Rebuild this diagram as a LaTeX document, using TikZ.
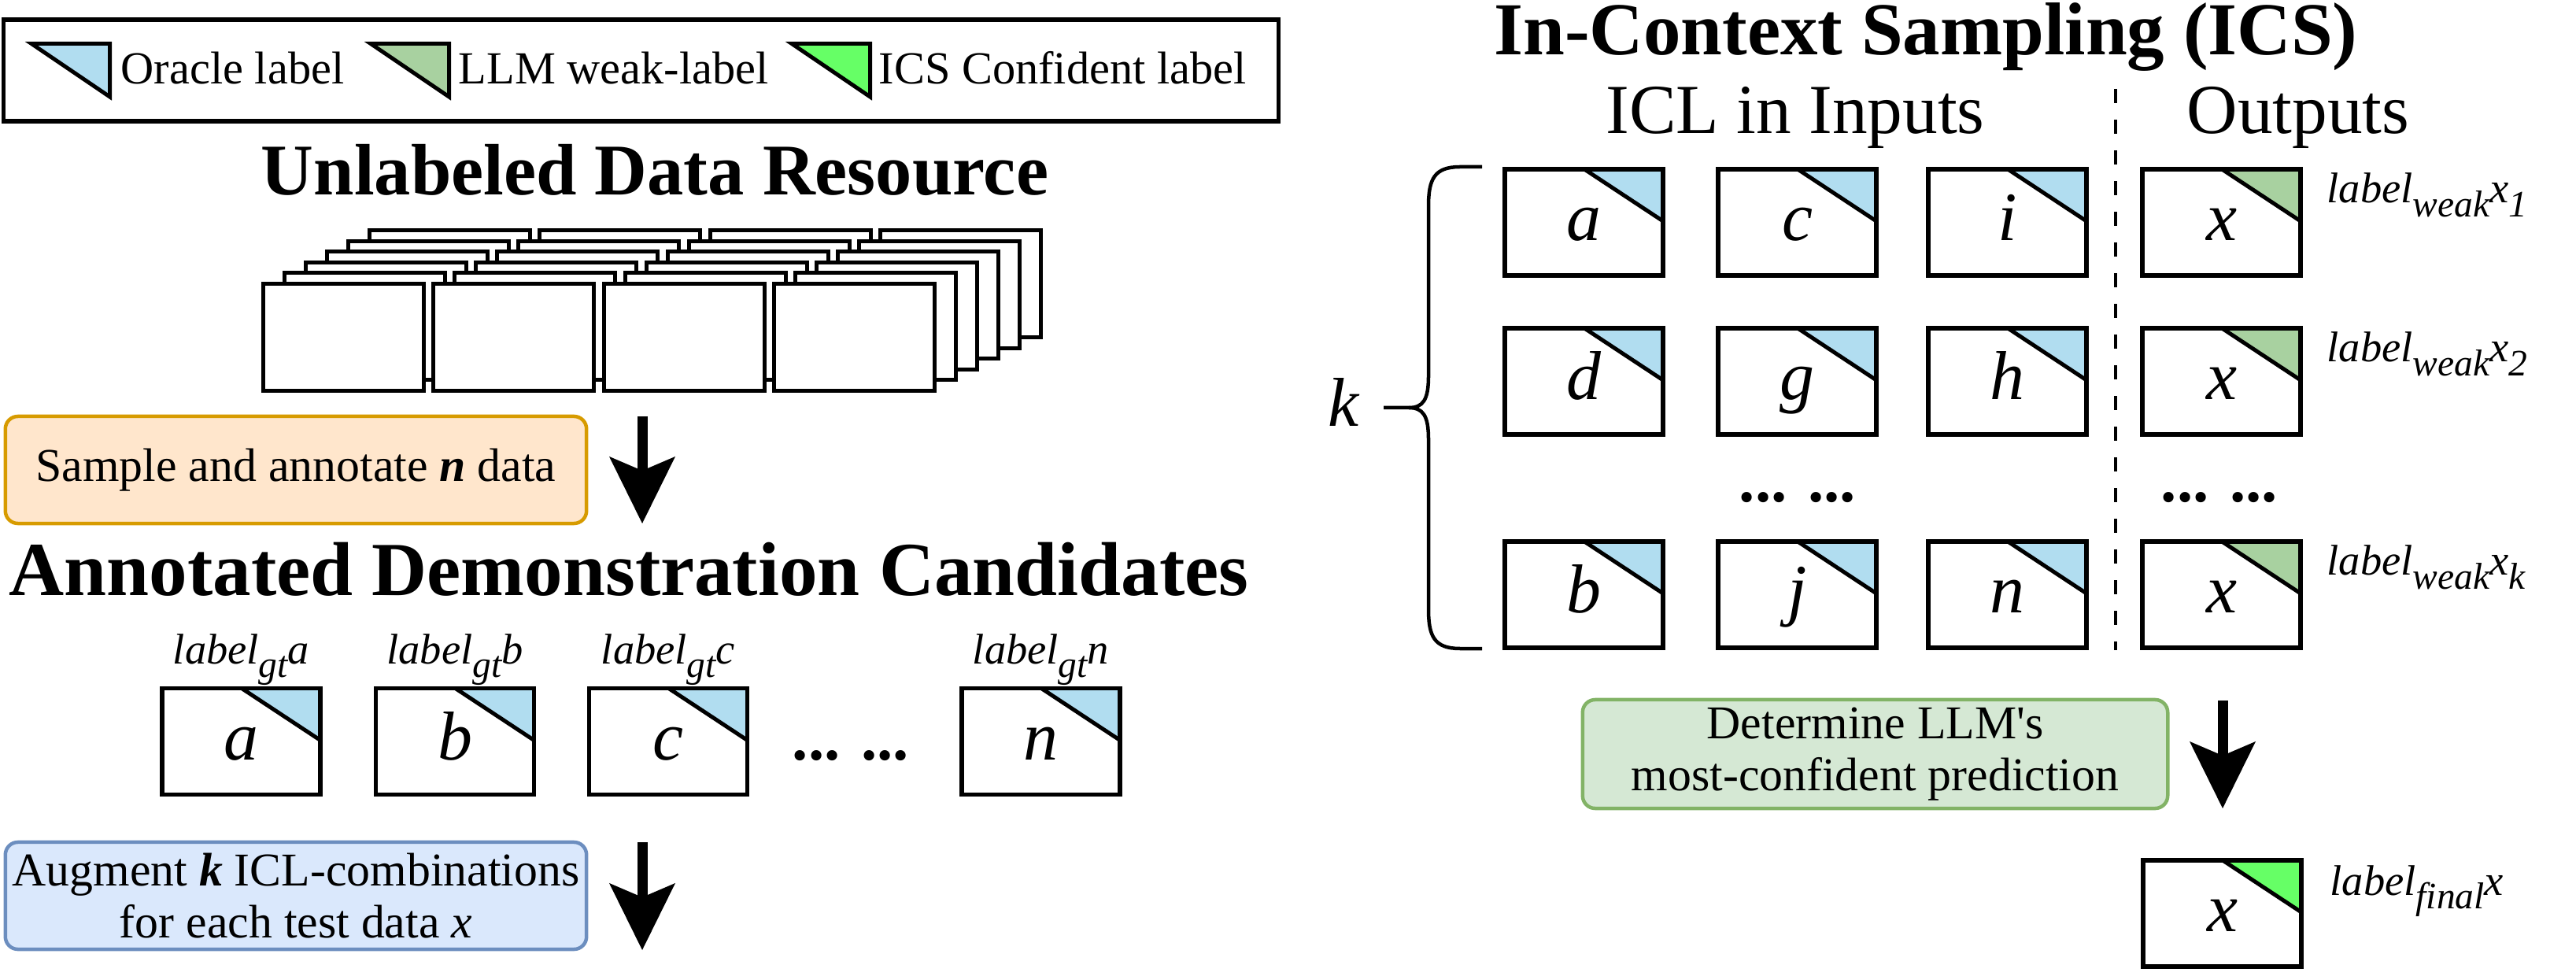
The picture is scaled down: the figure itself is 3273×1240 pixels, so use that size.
\documentclass[tikz,border=0pt]{standalone}
\usepackage{fontspec}
\setmainfont{Liberation Serif}
\usetikzlibrary{arrows.meta}
\definecolor{oracle}{HTML}{B1DDF0}
\definecolor{weakg}{HTML}{A8D1A0}
\definecolor{confg}{HTML}{66FF66}
\definecolor{orF}{HTML}{FFE6CC}
\definecolor{orD}{HTML}{D79B00}
\definecolor{blF}{HTML}{DAE8FC}
\definecolor{blD}{HTML}{6C8EBF}
\definecolor{grF}{HTML}{D5E8D4}
\definecolor{grD}{HTML}{82B366}
\tikzset{
  databox/.style={draw=black, fill=white, line width=0.055cm, minimum width=2.01cm, minimum height=1.35cm,
    inner sep=0pt, outer sep=0pt, text height=0.46cm, text depth=0pt, font=\fontsize{25}{25}\selectfont\itshape},
  stackbox/.style={draw=black, fill=white, line width=0.05cm},
  legtext/.style={inner sep=0pt, font=\fontsize{16.6}{19}\selectfont},
  titleA/.style={inner sep=0pt, font=\fontsize{26.3}{30}\selectfont\bfseries},
  titleB/.style={inner sep=0pt, font=\fontsize{27.6}{30}\selectfont\bfseries},
  titleC/.style={inner sep=0pt, font=\fontsize{27}{30}\selectfont\bfseries},
  hdr/.style={inner sep=0pt, font=\fontsize{25.4}{30}\selectfont},
  lbl/.style={inner sep=0pt, font=\fontsize{15.5}{18}\selectfont\itshape},
  dots/.style={inner sep=0pt, font=\fontsize{23}{26}\selectfont\bfseries},
  procbox/.style={line width=0.045cm, rounded corners=0.16cm, inner sep=0pt, outer sep=0pt, align=center,
    font=\fontsize{17}{19}\selectfont},
  bigarrow/.style={line width=0.13cm, -{Stealth[length=0.85cm, width=0.84cm, inset=0.18cm, line width=0pt]}},
  hyp/.style={line width=0.05cm},
}
\newcommand{\lsub}[1]{\raisebox{-0.17cm}{\fontsize{13.5}{14}\selectfont\itshape #1}}
\newcommand{\dbox}[5]{%
  \node[databox] (#1) at (#2,#3) {#4};
  \fill[#5] ([xshift=-1.0cm]#1.north east) -- (#1.north east) -- ([yshift=-0.66cm]#1.north east) -- cycle;
  \draw[hyp] ([xshift=-1.0cm]#1.north east) -- ([yshift=-0.66cm]#1.north east);
  \draw[line width=0.055cm] (#1.north west) rectangle (#1.south east);
}
\newcommand{\legtri}[2]{%
  \draw[fill=#2, line width=0.05cm, line join=miter] (#1+40,55.5) -- (#1+139.5,55.5) -- (#1+139.5,123) -- cycle;
}
\begin{document}
\begin{tikzpicture}[x=0.01cm,y=-0.01cm]
\useasboundingbox (0,0) rectangle (3273,1240);

% ---------- legend ----------
\node[draw=black, line width=0.055cm, minimum width=16.19cm, minimum height=1.29cm, inner sep=0pt, outer sep=0pt] (legend) at (814.5,89.5) {};
\legtri{0}{oracle}
\legtri{431}{weakg}
\legtri{966}{confg}
\node[legtext, anchor=base west] (lg1) at (153,107) {Oracle label};
\node[legtext, anchor=base west] (lg2) at (582,107) {LLM weak-label};
\node[legtext, anchor=base west] (lg3) at (1116,107) {ICS Confident label};

% ---------- unlabeled data ----------
\node[titleA, anchor=base] (t1) at (832,248) {Unlabeled Data Resource};
\foreach \k in {5,4,...,0}{
  \foreach \i in {0,1,2,3}{
    \draw[stackbox] ({334.5+216.3*\i+27*\k},{360.5-13.5*\k}) rectangle +(204,136);
  }
}

% ---------- sample ----------
\node[procbox, draw=orD, fill=orF, minimum width=7.38cm, minimum height=1.36cm] (sample) at (376,597)
  {Sample and annotate \textbf{\textit{n}} data};
\coordinate (a1s) at (816,529);
\coordinate (a1e) at (816,665);
\draw[bigarrow] (a1s) -- (a1e);

% ---------- annotated candidates ----------
\node[titleB, anchor=base] (t2) at (799,756) {Annotated Demonstration Candidates};
\dbox{ca}{306.5}{942}{a}{oracle}
\dbox{cb}{578}{942}{b}{oracle}
\dbox{cc}{849}{942}{c}{oracle}
\dbox{cn}{1322.5}{942}{n}{oracle}
\node[dots, anchor=base] (cdots) at (1081,965) {... ...};
\node[lbl, anchor=base] (la) at (306.5,843) {label\lsub{gt}a};
\node[lbl, anchor=base] (lb) at (578,843) {label\lsub{gt}b};
\node[lbl, anchor=base] (lc) at (849,843) {label\lsub{gt}c};
\node[lbl, anchor=base] (ln) at (1322.5,843) {label\lsub{gt}n};

% ---------- augment ----------
\node[procbox, draw=blD, fill=blF, minimum width=7.38cm, minimum height=1.36cm] (augment) at (376,1138)
  {Augment \textbf{\textit{k}} ICL-combinations\\for each test data \textit{x}};
\coordinate (a2s) at (816,1070);
\coordinate (a2e) at (816,1207);
\draw[bigarrow] (a2s) -- (a2e);

% ---------- ICS ----------
\node[titleC, anchor=base] (t3) at (2447,70) {In-Context Sampling (ICS)};
\node[hdr, anchor=base] (h1) at (2281,170) {ICL in Inputs};
\node[hdr, anchor=base] (h2) at (2920,170) {Outputs};
\coordinate (dtop) at (2688,113);
\coordinate (dbot) at (2688,826);
\draw[line width=0.045cm, dash pattern=on 0.18cm off 0.21cm] (dtop) -- (dbot);

\dbox{r1a}{2012.5}{282.5}{a}{oracle}
\dbox{r1b}{2283.5}{282.5}{c}{oracle}
\dbox{r1c}{2550.5}{282.5}{i}{oracle}
\dbox{r1x}{2822.5}{282.5}{x}{weakg}
\dbox{r2a}{2012.5}{484.5}{d}{oracle}
\dbox{r2b}{2283.5}{484.5}{g}{oracle}
\dbox{r2c}{2550.5}{484.5}{h}{oracle}
\dbox{r2x}{2822.5}{484.5}{x}{weakg}
\dbox{r3a}{2012.5}{755.5}{b}{oracle}
\dbox{r3b}{2283.5}{755.5}{j}{oracle}
\dbox{r3c}{2550.5}{755.5}{n}{oracle}
\dbox{r3x}{2822.5}{755.5}{x}{weakg}
\node[dots, anchor=base] (d1) at (2284,638) {... ...};
\node[dots, anchor=base] (d2) at (2820,638) {... ...};
\node[lbl, anchor=base west] (w1) at (2956,258) {label\lsub{weak}x\lsub{1}};
\node[lbl, anchor=base west] (w2) at (2956,460) {label\lsub{weak}x\lsub{2}};
\node[lbl, anchor=base west] (w3) at (2956,731) {label\lsub{weak}x\lsub{k}};

% brace
\draw[line width=0.045cm] (1883,212) -- (1855,212) .. controls (1822,212) and (1815,228) .. (1815,262)
  -- (1815,478) .. controls (1815,508) and (1808,518) .. (1790,518) -- (1758,518);
\draw[line width=0.045cm] (1790,518) .. controls (1808,518) and (1815,528) .. (1815,558)
  -- (1815,774) .. controls (1815,808) and (1822,824) .. (1855,824) -- (1883,824);
\node[inner sep=0pt, anchor=base, font=\fontsize{25}{28}\selectfont\itshape] (kk) at (1707,542) {k};

% ---------- final ----------
\node[procbox, draw=grD, fill=grF, minimum width=7.43cm, minimum height=1.38cm] (determine) at (2382.5,958)
  {Determine LLM\textquotesingle s\\most-confident prediction};
\coordinate (a3s) at (2824,890);
\coordinate (a3e) at (2824,1027);
\draw[bigarrow] (a3s) -- (a3e);
\dbox{fin}{2823.5}{1160.5}{x}{confg}
\node[lbl, anchor=base west] (wf) at (2960,1137) {label\lsub{final}x};
\end{tikzpicture}
\end{document}
